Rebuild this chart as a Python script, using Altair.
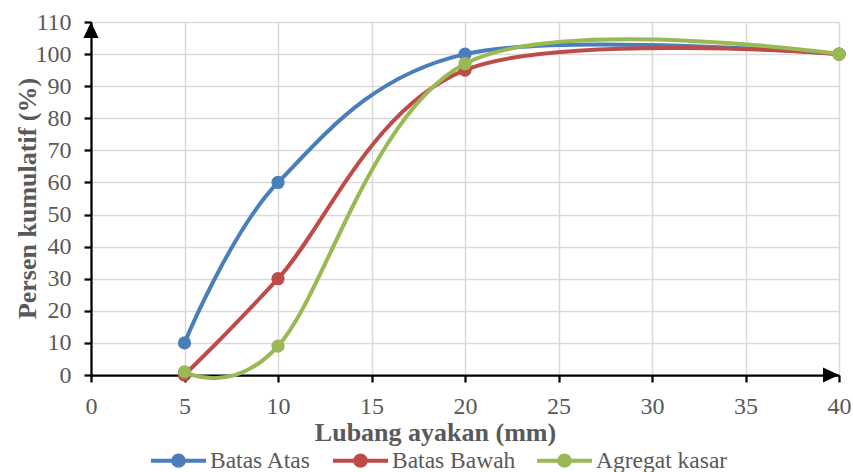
import altair as alt
import pandas as pd

sieve = [5, 10, 20, 40]
series_names = ["Batas Atas", "Batas Bawah", "Agregat kasar"]
batas_atas = [10, 60, 100, 100]
batas_bawah = [0, 30, 95, 100]
agregat_kasar = [1, 9, 97, 100]
colors = ["#4A7EBB", "#BE4B48", "#98B954"]
x_ticks = [0, 5, 10, 15, 20, 25, 30, 35, 40]
y_ticks = [0, 10, 20, 30, 40, 50, 60, 70, 80, 90, 100, 110]

values = {"Batas Atas": batas_atas, "Batas Bawah": batas_bawah, "Agregat kasar": agregat_kasar}
rows = []
for name in series_names:
    for xv, yv in zip(sieve, values[name]):
        rows.append({"x": xv, "y": yv, "series": name})
df = pd.DataFrame(rows)

FONT = "Liberation Serif"
GRAY = "#595959"

xscale = alt.Scale(domain=[0, 40], nice=False, zero=False)
yscale = alt.Scale(domain=[0, 110], nice=False)
color = alt.Color(
    "series:N",
    scale=alt.Scale(domain=series_names, range=colors),
    sort=series_names,
    legend=alt.Legend(
        title=None,
        orient="none",
        direction="horizontal",
        legendX=58,
        legendY=409,
        symbolType="M-1,0L1,0M-0.19,0A0.19,0.19,0,1,1,0.19,0A0.19,0.19,0,1,1,-0.19,0Z",
        symbolSize=3025,
        symbolStrokeWidth=4,
        labelFont=FONT,
        labelFontSize=23.5,
        labelColor=GRAY,
        labelOffset=2,
        columnPadding=13,
        padding=0,
    ),
)

x_axis = alt.Axis(values=x_ticks, title="Lubang ayakan (mm)", titleX=344, titleY=65,
                  titleBaseline="alphabetic", titleAlign="center",
                  labelBaseline="alphabetic", labelPadding=31)
y_axis = alt.Axis(values=y_ticks, title="Persen kumulatif (%)", titleX=-56, titleY=176,
                  titleAngle=270, titleBaseline="alphabetic", titleAlign="center",
                  labelPadding=13)
x_enc = alt.X("x:Q", scale=xscale, axis=x_axis)
y_enc = alt.Y("y:Q", scale=yscale, axis=y_axis)

layers = []
for name in series_names:
    sub = df[df["series"] == name]
    base = alt.Chart(sub).encode(x=x_enc, y=y_enc, color=color)
    layers.append(base.mark_line(interpolate="cardinal", strokeWidth=4))
    layers.append(base.mark_point(filled=True, size=175, opacity=1, shape="circle"))

arrow_up = pd.DataFrame({"x": [0], "y": [110]})
arrow_right = pd.DataFrame({"x": [40], "y": [0]})
layers.append(
    alt.Chart(arrow_up).mark_point(
        shape="M0,0L-0.95,2L0.95,2Z", size=256, filled=True, color="black", opacity=1
    ).encode(x=x_enc, y=y_enc)
)
layers.append(
    alt.Chart(arrow_right).mark_point(
        shape="M0,0L-2,-0.95L-2,0.95Z", size=256, filled=True, color="black", opacity=1
    ).encode(x=x_enc, y=y_enc)
)

chart = alt.layer(*layers).properties(
    width=748,
    height=353,
    autosize=alt.AutoSizeParams(type="none"),
    padding={"left": 91, "top": 22, "right": 14, "bottom": 97},
).configure_view(stroke=None).configure_axis(
    labelFont=FONT,
    labelFontSize=24,
    labelColor=GRAY,
    labelOverlap=False,
    labelFlush=False,
    titleFont=FONT,
    titleFontSize=26,
    titleFontWeight="bold",
    titleColor=GRAY,
    domainColor="black",
    domainWidth=2.25,
    tickColor="black",
    tickWidth=2.25,
    tickSize=7,
    gridColor="#D9D9D9",
    gridWidth=1.5,
)

chart.save("out.html", embed_options={"renderer": "svg", "actions": False})
